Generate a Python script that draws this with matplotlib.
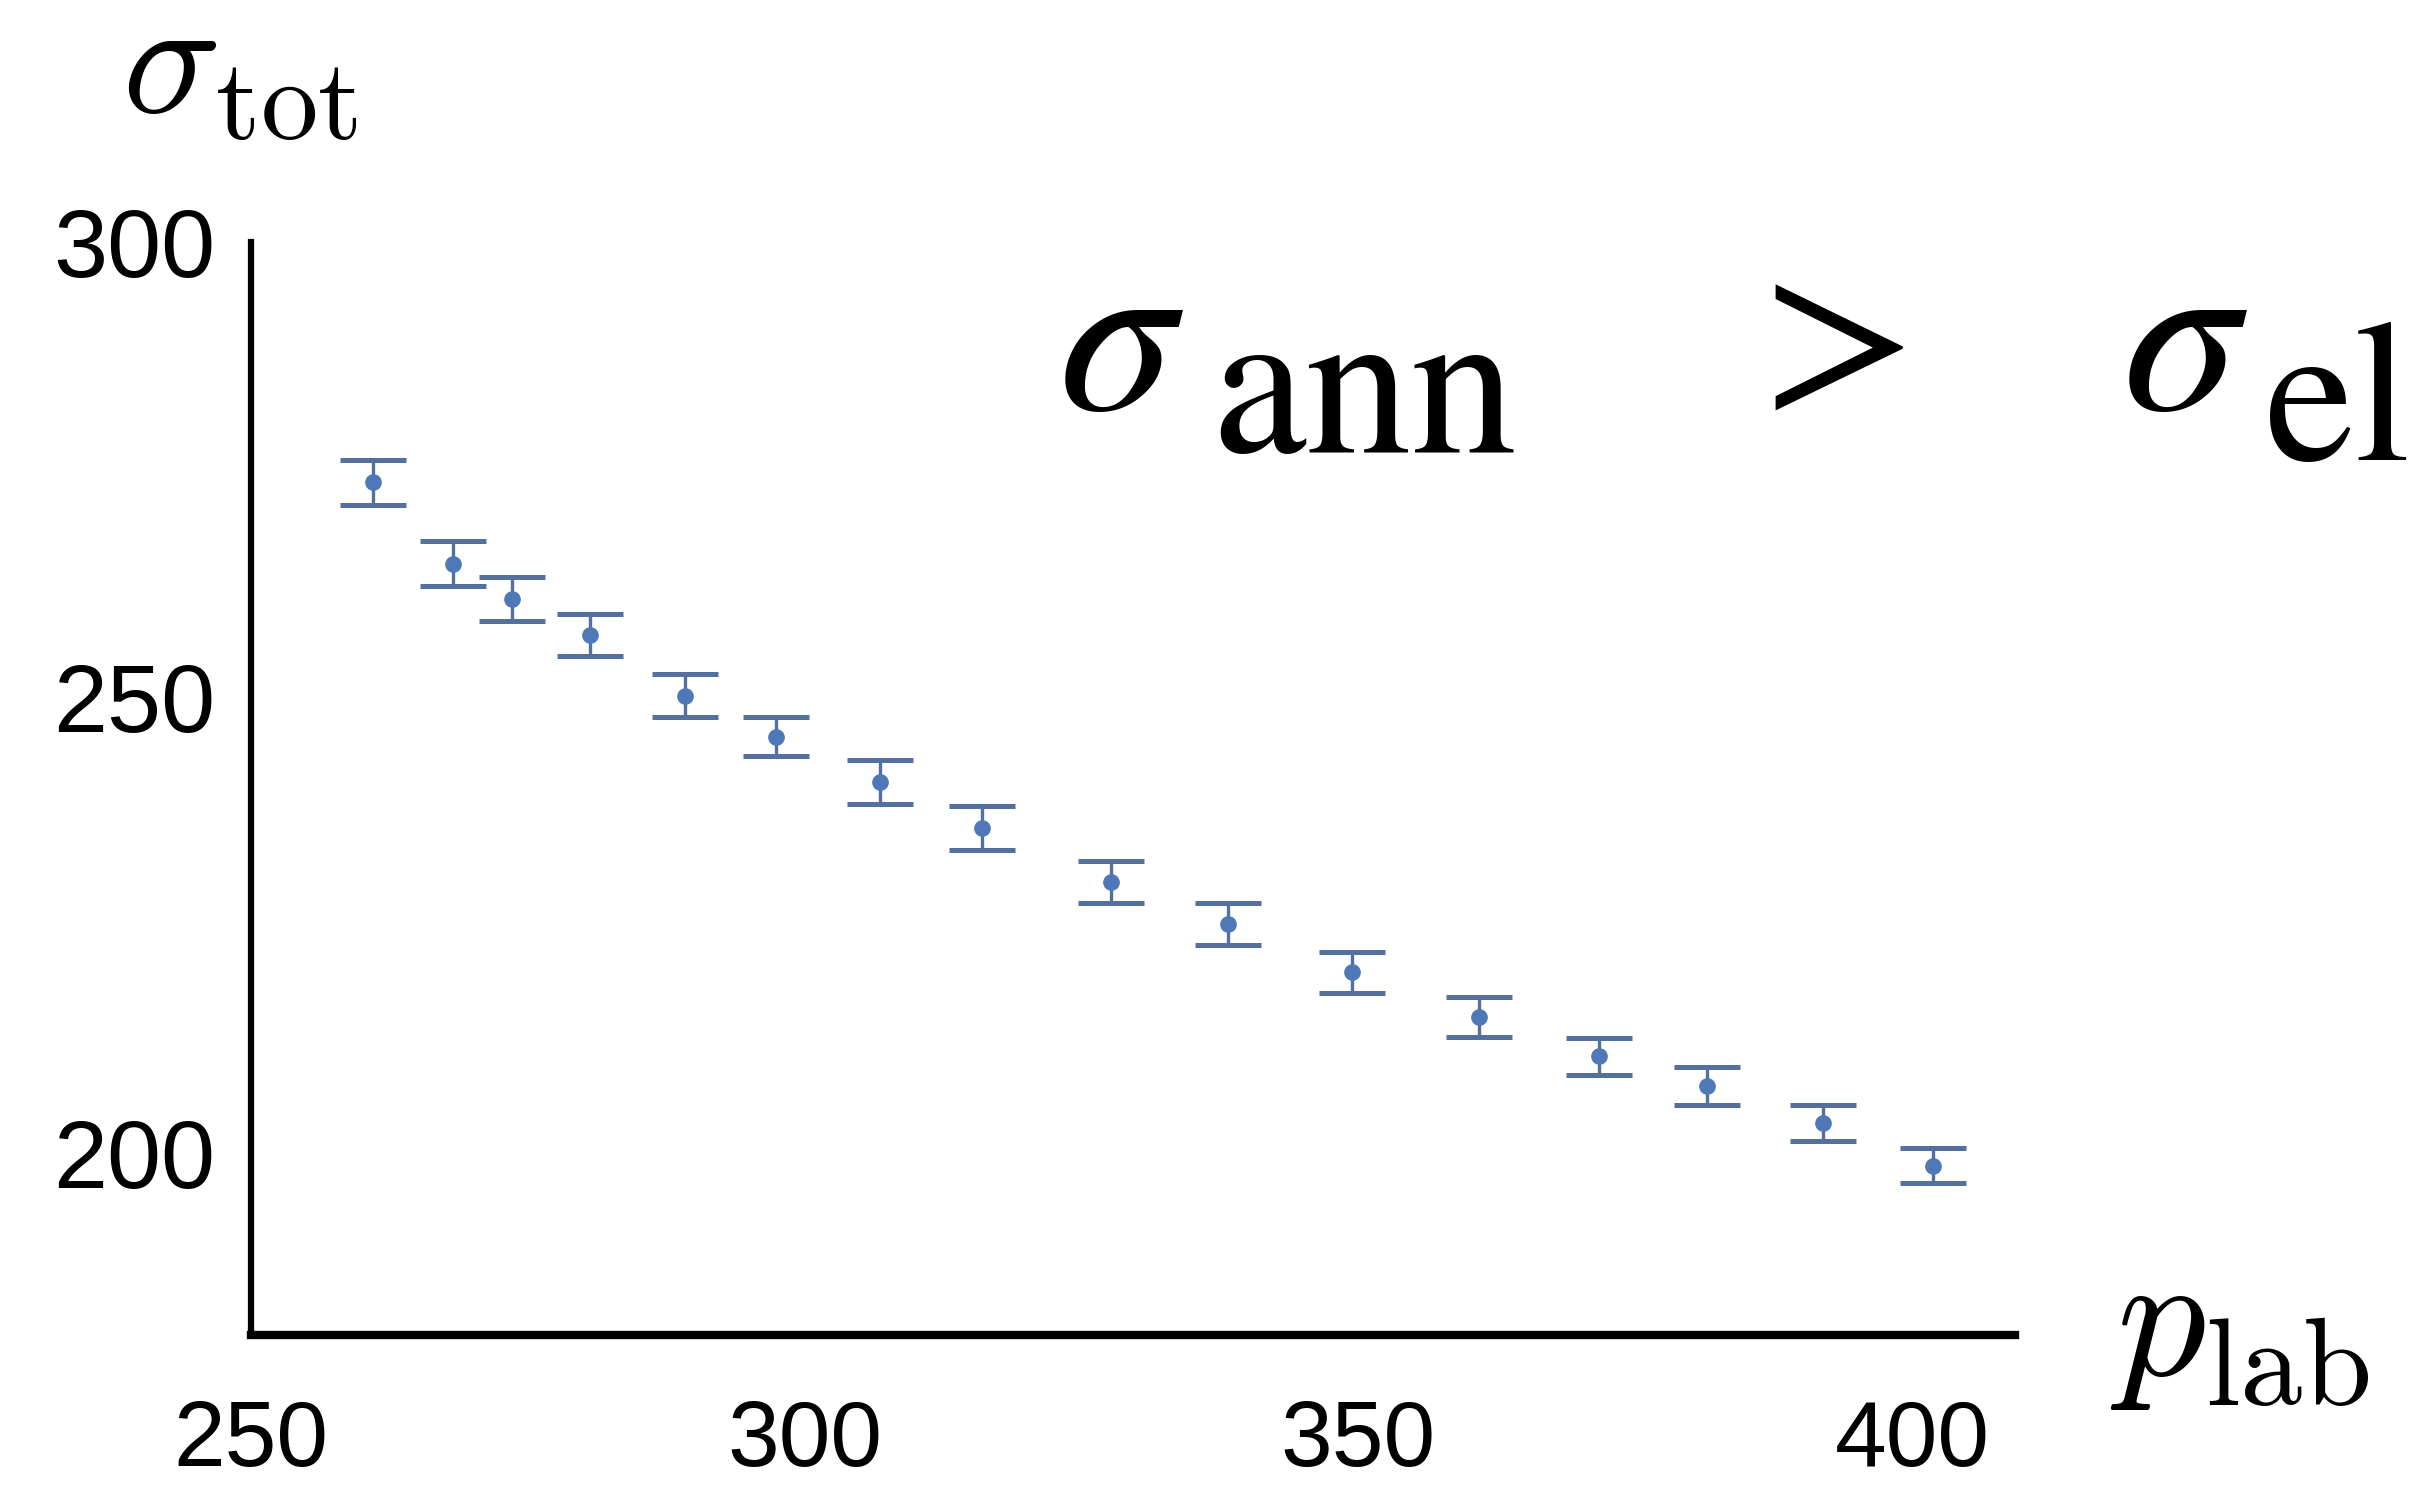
import matplotlib
matplotlib.use("Agg")
import matplotlib.pyplot as plt
import numpy as np

# data
p_lab = [261.0, 268.2, 273.6, 280.6, 289.2, 297.4, 306.8, 316.0,
         327.7, 338.2, 349.4, 360.9, 371.7, 381.5, 392.0, 401.9]
sigma_tot = [273.6, 264.7, 260.8, 256.9, 250.2, 245.7, 240.7, 235.7,
             229.7, 225.1, 219.8, 214.9, 210.6, 207.3, 203.3, 198.6]
sigma_err = [2.47, 2.47, 2.4, 2.3, 2.4, 2.15, 2.4, 2.4,
             2.3, 2.3, 2.2, 2.2, 2.05, 2.1, 2.0, 1.9]
xticks = [250, 300, 350, 400]
yticks = [200, 250, 300]

W, H = 2418, 1487
fig = plt.figure(figsize=(W / 100, H / 100), dpi=100)
fig.set_facecolor("white")

# axes box in pixel coords of the reference
left, right, top, bottom = 251, 2015, 242, 1335
ax = fig.add_axes([left / W, 1 - bottom / H, (right - left) / W, (bottom - top) / H])

blue = "#4f78b8"
eb = ax.errorbar(p_lab, sigma_tot, yerr=sigma_err, fmt="o", color=blue,
                 markersize=11, ecolor="#54709e", elinewidth=2.4,
                 capsize=24, capthick=3.6, zorder=3)
for cap in eb[1]:
    cap.set_color("#6288c6")

ax.set_xlim(250, 409.3)
ax.set_ylim(180, 300)
ax.set_xticks(xticks)
ax.set_yticks(yticks)

for s in ["top", "right"]:
    ax.spines[s].set_visible(False)
ax.spines["left"].set_linewidth(4.5)
ax.spines["bottom"].set_linewidth(6)
ax.spines["left"].set_bounds(180, 300)

ax.tick_params(axis="both", length=0)
ax.tick_params(axis="y", pad=26, labelsize=70)
ax.tick_params(axis="x", pad=46, labelsize=67)
for lab in ax.get_xticklabels() + ax.get_yticklabels():
    lab.set_family("Liberation Sans")

# axis labels, computer-modern style
fig.text(122 / W, 1 - 112 / H, r"$\sigma_{\mathrm{tot}}$", fontsize=118,
         math_fontfamily="cm", ha="left", va="baseline")
fig.text(2110 / W, 1 - 1375 / H, r"$p_{\mathrm{lab}}$", fontsize=128,
         math_fontfamily="cm", ha="left", va="baseline")

# sigma_ann > sigma_el
fig.text(1058 / W, 1 - 409 / H, r"$\sigma$", fontsize=168,
         math_fontfamily="stix", ha="left", va="baseline")
fig.text(1212 / W, 1 - 452 / H, "ann", fontsize=152, family="STIXGeneral",
         ha="left", va="baseline")
fig.text(1730 / W, 1 - 405 / H, r"$>$", fontsize=162,
         math_fontfamily="stix", ha="left", va="baseline")
fig.text(2122 / W, 1 - 409 / H, r"$\sigma$", fontsize=168,
         math_fontfamily="stix", ha="left", va="baseline")
fig.text(2265 / W, 1 - 460 / H, "el", fontsize=145, family="STIXGeneral",
         ha="left", va="baseline")

fig.savefig("out.png", dpi=100, facecolor="white")
